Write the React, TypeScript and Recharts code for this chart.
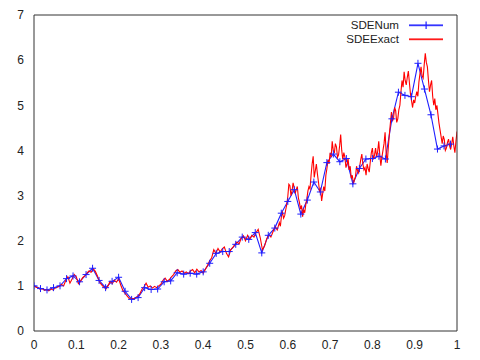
import React from 'react';
import { LineChart, Line, XAxis, YAxis, Legend } from 'recharts';

// SDENum: numerical solution (step 1/65)
const sdeNumValues = [
  1.00, 0.94, 0.91, 0.96, 1.00, 1.16, 1.22, 1.09, 1.25, 1.39,
  1.12, 0.96, 1.10, 1.19, 0.88, 0.70, 0.74, 0.96, 0.92, 0.93,
  1.09, 1.11, 1.29, 1.26, 1.28, 1.26, 1.31, 1.50, 1.72, 1.76,
  1.76, 1.92, 2.08, 2.03, 2.18, 1.73, 2.12, 2.28, 2.61, 2.87,
  3.13, 2.59, 2.90, 3.30, 3.08, 3.73, 3.92, 3.75, 3.82, 3.26,
  3.60, 3.81, 3.82, 3.87, 3.81, 4.70, 5.29, 5.22, 5.19, 5.93,
  5.36, 4.79, 4.03, 4.10, 4.14,
];

// SDEExact, t = 0 .. 0.58 (step 1/200)
const sdeExactEarly = [
  1.00, 0.97, 0.95, 0.92, 0.94, 0.90, 0.92, 0.89, 0.93, 0.91,
  0.95, 0.97, 0.99, 1.03, 1.00, 1.12, 1.20, 1.06, 1.15, 1.25,
  1.20, 1.05, 1.10, 1.18, 1.22, 1.28, 1.33, 1.30, 1.38, 1.32,
  1.22, 1.08, 1.02, 0.97, 0.93, 1.00, 1.10, 1.05, 1.12, 1.08,
  1.16, 1.02, 0.90, 0.84, 0.78, 0.72, 0.73, 0.71, 0.74, 0.77,
  0.82, 0.92, 0.98, 1.06, 0.97, 1.00, 0.95, 0.99, 0.96, 1.00,
  1.04, 1.12, 1.17, 1.10, 1.14, 1.20, 1.25, 1.33, 1.36, 1.30,
  1.33, 1.28, 1.31, 1.27, 1.33, 1.36, 1.29, 1.37, 1.31, 1.34,
  1.28, 1.36, 1.45, 1.55, 1.62, 1.80, 1.72, 1.83, 1.75, 1.82,
  1.86, 1.72, 1.64, 1.80, 1.85, 1.92, 1.97, 1.93, 2.06, 2.11,
  2.00, 2.12, 2.03, 2.12, 2.08, 2.18, 2.25, 2.06, 1.80, 1.88,
  2.04, 2.13, 2.08, 2.20, 2.31, 2.24, 2.40,
];

// SDEExact, t = 0.5825 .. 1 (step 1/400)
const sdeExactLate = [
  2.32, 2.55, 2.62, 2.50, 2.55, 2.68, 2.80, 2.98, 3.25, 3.22,
  3.00, 3.10, 3.28, 3.18, 3.05, 3.13, 3.20, 2.95, 2.85, 2.70,
  2.78, 2.53, 2.68, 2.62, 2.80, 2.92, 3.10, 3.20, 3.15, 3.45,
  3.70, 3.87, 3.40, 3.55, 3.70, 3.48, 3.30, 3.10, 3.15, 2.88,
  3.05, 3.20, 3.10, 3.45, 3.60, 3.79, 3.70, 3.95, 3.85, 4.20,
  4.00, 3.94, 4.15, 4.08, 3.85, 3.90, 4.10, 4.35, 4.00, 3.80,
  3.95, 3.85, 3.62, 3.70, 3.82, 3.57, 3.65, 3.38, 3.45, 3.26,
  3.35, 3.42, 3.65, 3.55, 3.50, 3.65, 3.80, 3.92, 3.70, 3.57,
  3.62, 3.45, 3.70, 3.60, 3.52, 3.75, 3.95, 4.05, 3.80, 3.90,
  4.05, 3.85, 3.98, 4.20, 3.90, 3.66, 3.85, 4.00, 4.15, 4.40,
  3.95, 3.72, 4.05, 4.35, 4.60, 4.85, 4.65, 4.72, 4.95, 4.88,
  4.62, 4.70, 4.90, 5.00, 5.30, 5.55, 5.40, 5.74, 5.55, 5.45,
  5.62, 5.76, 5.50, 5.25, 5.10, 4.95, 5.12, 5.05, 5.20, 5.30,
  5.20, 5.52, 5.70, 5.85, 5.65, 5.60, 5.90, 6.15, 5.95, 5.85,
  5.55, 5.30, 5.45, 5.55, 5.20, 5.00, 5.15, 4.90, 5.00, 4.80,
  4.60, 4.45, 4.30, 4.15, 4.32, 4.24, 4.00, 4.05, 4.18, 4.25,
  4.10, 4.02, 4.15, 4.30, 4.10, 3.95, 4.20, 4.42,
];

const xTicks = [0, 0.1, 0.2, 0.3, 0.4, 0.5, 0.6, 0.7, 0.8, 0.9, 1];
const yTicks = [0, 1, 2, 3, 4, 5, 6, 7];
const seriesNames = ['SDENum', 'SDEExact'];

const numData = sdeNumValues.map((v, i) => ({ t: i / 65, v }));
const exactData = [
  ...sdeExactEarly.map((v, j) => ({ t: j / 200, v })),
  ...sdeExactLate.map((v, k) => ({ t: 0.58 + (k + 1) / 400, v })),
];

const FONT = '"Liberation Sans", Arial, sans-serif';
const AXIS = '#333';
const TEXT = '#222';
const BLUE = '#1f1fff';
const RED = '#ff0000';

const PlusDot = (props: any) => {
  const { cx, cy, index } = props;
  if (cx == null || cy == null) return <g key={`p${index}`} />;
  return (
    <path
      key={`p${index}`}
      d={`M${cx - 3.5},${cy}H${cx + 3.5}M${cx},${cy - 3.5}V${cy + 3.5}`}
      stroke={BLUE}
      strokeWidth={1}
      fill="none"
    />
  );
};

const legendRows = [
  { name: seriesNames[0], color: BLUE, mark: true },
  { name: seriesNames[1], color: RED, mark: false },
];

const LegendContent = () => (
  <div style={{ fontFamily: FONT, fontSize: 11.6, color: TEXT }}>
    {legendRows.map((r) => (
      <div key={r.name} style={{ display: 'flex', alignItems: 'center', height: 14 }}>
        <span style={{ width: 99, textAlign: 'right', lineHeight: '14px', whiteSpace: 'nowrap' }}>{r.name}</span>
        <svg width={34} height={14} style={{ marginLeft: 10, display: 'block' }}>
          <rect x={0} y={6.4} width={34} height={1.8} fill={r.color} fillOpacity={0.9} />
          {r.mark ? <rect x={16.5} y={3.5} width={1.2} height={7.5} fill={r.color} /> : null}
        </svg>
      </div>
    ))}
  </div>
);

export default function App() {
  return (
    <div style={{ position: 'absolute', left: 0, top: 0, width: 480, height: 360 }}>
      <LineChart width={480} height={360} margin={{ top: 15, right: 23, bottom: 4, left: 4 }}>
        <XAxis
          xAxisId="b"
          type="number"
          dataKey="t"
          domain={[0, 1]}
          ticks={xTicks}
          interval={0}
          allowDataOverflow
          height={25}
          tickLine={false}
          tickSize={0}
          tickMargin={9}
          axisLine={{ stroke: AXIS }}
          tick={{ fill: TEXT, fontSize: 12, fontFamily: FONT }}
        />
        <XAxis
          xAxisId="bm"
          type="number"
          dataKey="t"
          domain={[0, 1]}
          ticks={xTicks}
          interval={0}
          allowDataOverflow
          mirror
          tick={false}
          tickSize={4}
          tickLine={{ stroke: AXIS }}
          axisLine={false}
        />
        <XAxis
          xAxisId="tm"
          orientation="top"
          type="number"
          dataKey="t"
          domain={[0, 1]}
          ticks={xTicks}
          interval={0}
          allowDataOverflow
          mirror
          tick={false}
          tickSize={4}
          tickLine={{ stroke: AXIS }}
          axisLine={{ stroke: AXIS }}
        />
        <YAxis
          yAxisId="l"
          type="number"
          domain={[0, 7]}
          ticks={yTicks}
          interval={0}
          allowDataOverflow
          width={30}
          tickLine={false}
          tickSize={0}
          tickMargin={10}
          axisLine={{ stroke: AXIS }}
          tick={{ fill: TEXT, fontSize: 12, fontFamily: FONT }}
        />
        <YAxis
          yAxisId="lm"
          type="number"
          domain={[0, 7]}
          ticks={yTicks}
          interval={0}
          allowDataOverflow
          mirror
          tick={false}
          tickSize={4}
          tickLine={{ stroke: AXIS }}
          axisLine={false}
        />
        <YAxis
          yAxisId="rm"
          orientation="right"
          type="number"
          domain={[0, 7]}
          ticks={yTicks}
          interval={0}
          allowDataOverflow
          mirror
          tick={false}
          tickSize={4}
          tickLine={{ stroke: AXIS }}
          axisLine={{ stroke: AXIS }}
        />
        <Legend
          layout="vertical"
          align="center"
          verticalAlign="middle"
          width={150}
          wrapperStyle={{ top: 18, left: 300, width: 150 }}
          content={<LegendContent />}
        />
        <Line
          xAxisId="b"
          yAxisId="l"
          data={numData}
          dataKey="v"
          name={seriesNames[0]}
          type="linear"
          stroke={BLUE}
          strokeWidth={1.1}
          dot={PlusDot}
          activeDot={false}
          isAnimationActive={false}
        />
        <Line
          xAxisId="b"
          yAxisId="l"
          data={exactData}
          dataKey="v"
          name={seriesNames[1]}
          type="linear"
          stroke={RED}
          strokeWidth={1.1}
          dot={false}
          activeDot={false}
          isAnimationActive={false}
        />
      </LineChart>
    </div>
  );
}
